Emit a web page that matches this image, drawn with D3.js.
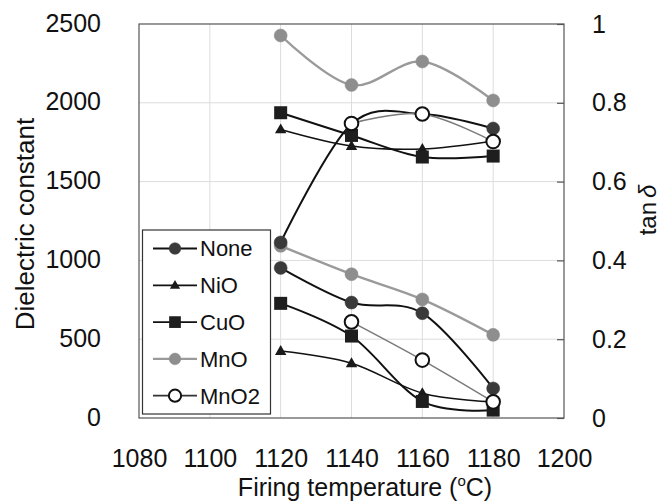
<!DOCTYPE html>
<html>
<head>
<meta charset="utf-8">
<script src="https://cdn.jsdelivr.net/npm/d3@7"></script>
<style>
  html, body { margin: 0; padding: 0; background: #fff; }
  svg { display: block; }
  text { font-family: "Liberation Sans", Arial, Helvetica, sans-serif; fill: #111; }
</style>
</head>
<body>
<svg id="chart" width="660" height="504"></svg>
<script>
// ---- data ----
const temps = [1120, 1140, 1160, 1180];
const seriesNames = ["None", "NiO", "CuO", "MnO", "MnO2"];

// Dielectric constant (left axis)
const epsNone = [1114, 1865, 1929, 1837];
const epsNiO  = [1831, 1726, 1707, 1758];
const epsCuO  = [1937, 1793, 1656, 1662];
const epsMnO  = [2427, 2113, 2262, 2015];
const epsMnO2 = [null, 1869, 1929, 1754];

// tan delta (right axis)
const tanNone = [0.381, 0.293, 0.266, 0.075];
const tanNiO  = [0.170, 0.139, 0.063, 0.041];
const tanCuO  = [0.291, 0.208, 0.042, 0.020];
const tanMnO  = [0.437, 0.365, 0.301, 0.211];
const tanMnO2 = [null, 0.244, 0.147, 0.041];

const xTicks = [1080, 1100, 1120, 1140, 1160, 1180, 1200];
const yLeftTicks = [0, 500, 1000, 1500, 2000, 2500];
const yRightTicks = [0, 0.2, 0.4, 0.6, 0.8, 1];

// ---- styles per series ----
const styles = {
  None: { marker: "circle",   fill: "#3a3a3a", stroke: "#3a3a3a", line: "#111", lw: 2 },
  NiO:  { marker: "triangle", fill: "#1a1a1a", stroke: "#1a1a1a", line: "#111", lw: 1.6 },
  CuO:  { marker: "square",   fill: "#1e1e1e", stroke: "#1e1e1e", line: "#111", lw: 2 },
  MnO:  { marker: "circle",   fill: "#8e8e8e", stroke: "#8e8e8e", line: "#9a9a9a", lw: 2.4 },
  MnO2: { marker: "circle",   fill: "#ffffff", stroke: "#111",    line: "#7a7a7a", lw: 1.5, hollow: true }
};

const svg = d3.select("#chart");
const W = 660, H = 504;
const plot = { left: 139, right: 564, top: 24, bottom: 418 };

const x = d3.scaleLinear().domain([1080, 1200]).range([plot.left, plot.right]);
const yL = d3.scaleLinear().domain([0, 2500]).range([plot.bottom, plot.top]);
const yR = d3.scaleLinear().domain([0, 1]).range([plot.bottom, plot.top]);

svg.append("rect").attr("width", W).attr("height", H).attr("fill", "#fff");

// gridlines
const grid = svg.append("g");
grid.selectAll("line.gx").data(xTicks.slice(1, -1)).join("line")
  .attr("x1", d => x(d)).attr("x2", d => x(d))
  .attr("y1", plot.top).attr("y2", plot.bottom)
  .attr("stroke", "#dcdcdc").attr("stroke-width", 1);
grid.selectAll("line.gy").data(yLeftTicks.slice(1, -1)).join("line")
  .attr("x1", plot.left).attr("x2", plot.right)
  .attr("y1", d => yL(d)).attr("y2", d => yL(d))
  .attr("stroke", "#dcdcdc").attr("stroke-width", 1);

// frame
svg.append("rect")
  .attr("x", plot.left).attr("y", plot.top)
  .attr("width", plot.right - plot.left).attr("height", plot.bottom - plot.top)
  .attr("fill", "none").attr("stroke", "#555").attr("stroke-width", 1.2);

// axes
const fs = 25;
const gL = svg.append("g").attr("transform", `translate(${plot.left},0)`)
  .call(d3.axisLeft(yL).tickValues(yLeftTicks).tickSize(0).tickPadding(38).tickFormat(d3.format("d")));
gL.select(".domain").remove();
gL.selectAll("text").attr("font-size", fs).attr("dy", "0.28em").style("font-family", "Liberation Sans, Arial, sans-serif").attr("fill", "#111");

const gR = svg.append("g").attr("transform", `translate(${plot.right},0)`)
  .call(d3.axisRight(yR).tickValues(yRightTicks).tickSize(-7).tickPadding(28).tickFormat(d3.format("~g")));
gR.select(".domain").remove();
gR.selectAll(".tick line").attr("stroke", "#555").attr("stroke-width", 1.2);
gR.selectAll("text").attr("font-size", fs).attr("dy", "0.32em").style("font-family", "Liberation Sans, Arial, sans-serif").attr("fill", "#111");

const gB = svg.append("g").attr("transform", `translate(0,${plot.bottom})`)
  .call(d3.axisBottom(x).tickValues(xTicks).tickSize(0).tickPadding(31).tickFormat(d3.format("d")));
gB.select(".domain").remove();
gB.selectAll("text").attr("font-size", fs).style("font-family", "Liberation Sans, Arial, sans-serif").attr("fill", "#111");

// axis titles
svg.append("text")
  .attr("x", 365).attr("y", 496).attr("text-anchor", "middle").attr("font-size", 25)
  .call(t => {
    t.append("tspan").text("Firing temperature (");
    t.append("tspan").text("o").attr("font-size", 15).attr("dy", -10);
    t.append("tspan").text("C)").attr("dy", 10);
  });

svg.append("text")
  .attr("transform", "translate(34,224) rotate(-90)")
  .attr("text-anchor", "middle").attr("font-size", 26)
  .text("Dielectric constant");

svg.append("text")
  .attr("transform", "translate(656,210) rotate(-90)")
  .attr("text-anchor", "middle").attr("font-size", 24)
  .call(t => {
    t.append("tspan").text("tan");
    t.append("tspan").text("δ").attr("font-style", "italic").attr("dx", 4);
  });

// ---- series ----
const line = (yScale) => d3.line()
  .defined(d => d.v !== null)
  .x(d => x(d.t)).y(d => yScale(d.v))
  .curve(d3.curveCardinal.tension(0));

function drawMarker(g, name, cx, cy, scale = 1) {
  const s = styles[name];
  if (s.marker === "circle") {
    g.append("circle").attr("cx", cx).attr("cy", cy)
      .attr("r", (s.hollow ? 6.8 : 6.5) * scale)
      .attr("fill", s.fill).attr("stroke", s.stroke).attr("stroke-width", s.hollow ? 2 : 0.5);
  } else if (s.marker === "square") {
    const a = 13 * scale;
    g.append("rect").attr("x", cx - a / 2).attr("y", cy - a / 2).attr("width", a).attr("height", a)
      .attr("fill", s.fill);
  } else if (s.marker === "triangle") {
    const a = 6 * scale;
    g.append("path")
      .attr("d", `M${cx},${cy - a} L${cx + a * 0.95},${cy + a * 0.65} L${cx - a * 0.95},${cy + a * 0.65} Z`)
      .attr("fill", s.fill);
  }
}

function drawGroup(dataMap, yScale) {
  const g = svg.append("g");
  seriesNames.forEach(name => {
    const vals = dataMap[name];
    const pts = temps.map((t, i) => ({ t, v: vals[i] }));
    const s = styles[name];
    g.append("path").datum(pts)
      .attr("d", line(yScale))
      .attr("fill", "none").attr("stroke", s.line).attr("stroke-width", s.lw);
    pts.filter(p => p.v !== null).forEach(p => drawMarker(g, name, x(p.t), yScale(p.v)));
  });
}

// lower group (tan delta) first, then dielectric constant on top
drawGroup({ None: tanNone, NiO: tanNiO, CuO: tanCuO, MnO: tanMnO, MnO2: tanMnO2 }, yR);
drawGroup({ None: epsNone, NiO: epsNiO, CuO: epsCuO, MnO: epsMnO, MnO2: epsMnO2 }, yL);

// ---- legend ----
const leg = svg.append("g");
leg.append("rect").attr("x", 142.5).attr("y", 230).attr("width", 128).attr("height", 184)
  .attr("fill", "#fff").attr("stroke", "#333").attr("stroke-width", 1.2);
seriesNames.forEach((name, i) => {
  const cy = 248.5 + i * 36.8;
  const s = styles[name];
  leg.append("line").attr("x1", 153).attr("x2", 197).attr("y1", cy).attr("y2", cy)
    .attr("stroke", name === "MnO2" ? "#333" : s.line).attr("stroke-width", name === "MnO" ? 2.4 : 1.8);
  drawMarker(leg, name, 175, cy, 0.9);
  leg.append("text").attr("x", 200).attr("y", cy).attr("dy", "0.36em")
    .attr("font-size", 22).text(name);
});
</script>
</body>
</html>
